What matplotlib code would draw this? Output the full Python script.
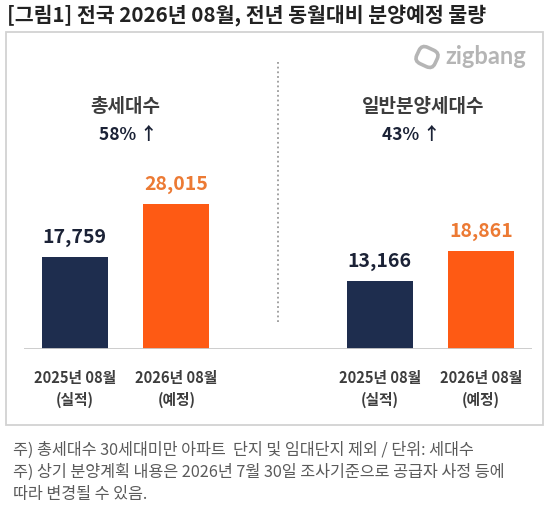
import matplotlib
matplotlib.use("Agg")
import matplotlib.pyplot as plt
from matplotlib.patches import Rectangle, FancyBboxPatch
import matplotlib.transforms as mtransforms

plt.rcParams['font.family'] = ['Noto Sans CJK KR', 'DejaVu Sans']

# ---- data ----
title = "[그림1] 전국 2026년 08월, 전년 동월대비 분양예정 물량"
groups = ["총세대수", "일반분양세대수"]
growth = ["58% ↑", "43% ↑"]
categories = ["2025년 08월", "2026년 08월"]
cat_sub = ["(실적)", "(예정)"]
total_units = [17759, 28015]
general_units = [13166, 18861]
notes = [
    "주) 총세대수 30세대미만 아파트  단지 및 임대단지 제외 / 단위: 세대수",
    "주) 상기 분양계획 내용은 2026년 7월 30일 조사기준으로 공급자 사정 등에",
    "따라 변경될 수 있음.",
]

W, H = 550, 518
fig = plt.figure(figsize=(W / 100, H / 100), dpi=100)
fig.patch.set_facecolor('white')

def fx(x):
    return x / W

def fy(y):
    return 1 - y / H

NAVY = '#1e2d4e'
ORANGE = '#fe5a14'
ORANGE_TXT = '#ec7a34'
NAVY_TXT = '#1b2236'
GRAY_TXT = '#3d3d3d'

# outer box
fig.add_artist(Rectangle((fx(6), fy(425)), fx(543) - fx(6), fy(32) - fy(425),
                         transform=fig.transFigure, fill=False,
                         edgecolor='#d2d2d2', linewidth=1.3))

# title
fig.text(fx(7), fy(15), title, ha='left', va='center', fontsize=14.8,
         fontweight='bold', color='#222222')

# axes for bars
ax_left, ax_right, ax_bottom, ax_top = 24, 532, 349, 60
ax = fig.add_axes([fx(ax_left), fy(ax_bottom), fx(ax_right) - fx(ax_left),
                   (ax_bottom - ax_top) / H])
px_per_unit = 0.00519
ax.set_xlim(-0.5, 4.5)
ax.set_ylim(0, (ax_bottom - ax_top) / px_per_unit)
ax.axis('off')

positions = [[0, 1], [3, 4]]
series = [total_units, general_units]
colors = [NAVY, ORANGE]
txt_colors = [NAVY_TXT, ORANGE_TXT]
for pos, vals in zip(positions, series):
    ax.bar(pos, vals, width=0.65, color=colors, zorder=2)
    for p, v, tc in zip(pos, vals, txt_colors):
        ax.annotate(f"{v:,}", (p, v), xytext=(0, 13.8), textcoords='offset points',
                    ha='center', va='center', fontsize=14, fontweight='bold', color=tc)
    for p, c, s in zip(pos, categories, cat_sub):
        ax.annotate(c, (p, 0), xytext=(0, -20.8), textcoords='offset points',
                    ha='center', va='center', fontsize=10.6, fontweight='bold',
                    color=GRAY_TXT, annotation_clip=False)
        ax.annotate(s, (p, 0), xytext=(0, -36.7), textcoords='offset points',
                    ha='center', va='center', fontsize=10.6, fontweight='bold',
                    color=GRAY_TXT, annotation_clip=False)

ax.axhline(0, color='#c9c9c9', linewidth=1.3, zorder=3)
ax.axvline(2, ymin=27 / 289, ymax=1, color='#9a9a9a', linewidth=1.3,
           linestyle=(0, (1, 1.6)))

# group titles
for (gx, gy), (px_, py_), g, gr in zip([(125, 107), (423, 107)],
                                         [(128, 135), (411, 135)],
                                         groups, growth):
    fig.text(fx(gx), fy(gy), g, ha='center', va='center', fontsize=13.7,
             fontweight='bold', color=GRAY_TXT)
    fig.text(fx(px_), fy(py_), gr, ha='center', va='center', fontsize=12.5,
             fontweight='bold', color=NAVY_TXT)

# zigbang logo
LOGO = '#b5b5b5'
fig.text(fx(445), fy(56), "zigbang", ha='left', va='center', fontsize=17,
         family=['Lato', 'DejaVu Sans'], fontweight='bold', color=LOGO)
icon = FancyBboxPatch((fx(417), fy(66)), fx(20), fy(48) - fy(66),
                      boxstyle="round,pad=0,rounding_size=0.012",
                      transform=fig.transFigure, fill=False,
                      edgecolor=LOGO, linewidth=2.6)
rot = mtransforms.Affine2D().rotate_deg_around(fx(427) * W, fy(57) * H, -25)
icon.set_transform(fig.transFigure + rot)
fig.add_artist(icon)

# notes
for y, n in zip([450, 472, 494], notes):
    fig.text(fx(13), fy(y), n, ha='left', va='center', fontsize=11.7,
             color='#5a5a5a')

fig.savefig('out.png', dpi=100, facecolor='white')
